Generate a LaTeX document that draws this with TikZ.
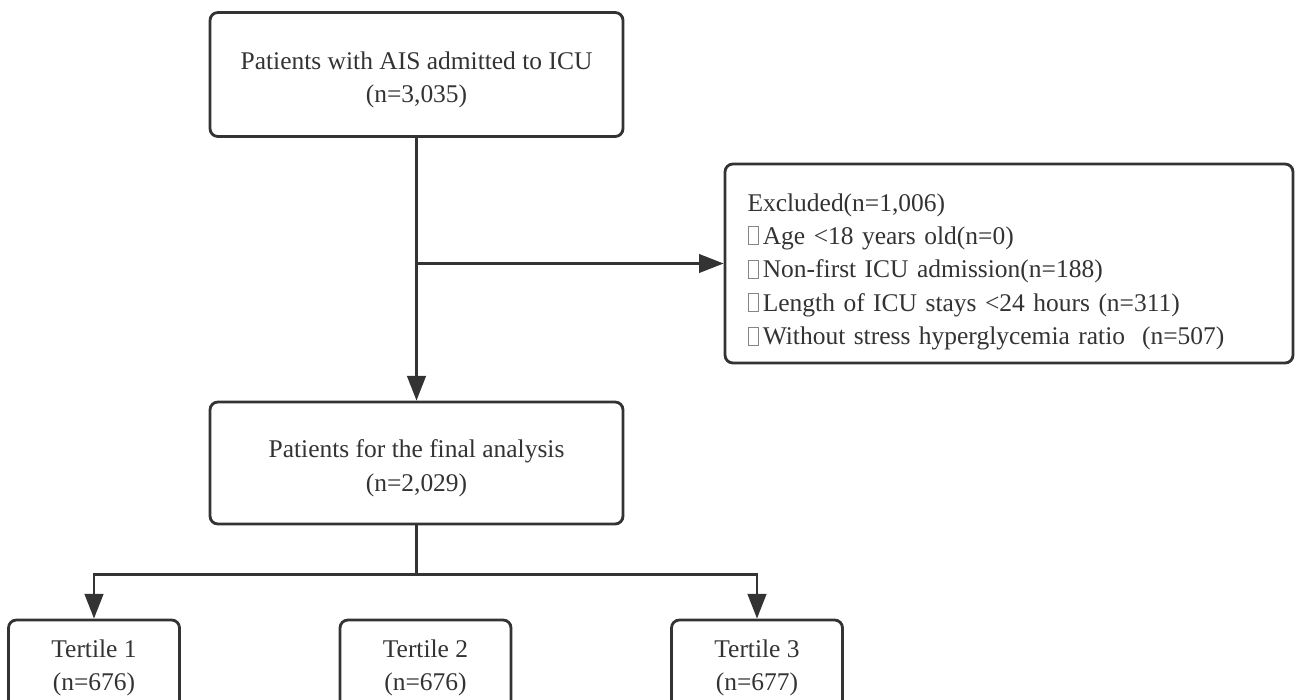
\documentclass[tikz,border=0pt]{standalone}
\usepackage{fontspec}
\setmainfont{Liberation Serif}
\usetikzlibrary{arrows.meta}
\definecolor{ink}{HTML}{333333}
\newcommand{\nobox}{{\color{ink!60}\setlength{\fboxrule}{0.4pt}\setlength{\fboxsep}{0pt}\fbox{\rule{0pt}{0.68em}\hspace{0.38em}}}\,}
\newcommand{\lift}[1]{\rule{0pt}{#1}}
\begin{document}
\begin{tikzpicture}[box/.style={draw=ink,line width=1.6pt,rounded corners=4.5pt,align=center,text=ink,font=\fontsize{14.5}{19}\selectfont},
  arr/.style={draw=ink,line width=1.6pt,-{Triangle[length=14pt,width=10.5pt]}}]
\useasboundingbox (0,0) rectangle (25.92,-14);
\node[box,minimum width=8.26cm,minimum height=2.48cm] (adm) at (8.33,-1.49) {\lift{16pt}Patients with AIS admitted to ICU\\(n=3,035)};
\node[box,align=left,text width=10.46cm,inner xsep=0.45cm,minimum height=3.98cm] (excl) at (20.18,-5.27)
  {\lift{19.5pt}Excluded(n=1,006)\\\nobox Age <18 years old(n=0)\\\nobox Non-first ICU admission(n=188)\\\nobox Length of ICU stays <24 hours (n=311)\\\nobox Without stress hyperglycemia ratio~ (n=507)};
\node[box,minimum width=8.26cm,minimum height=2.44cm] (fin) at (8.33,-9.26) {\lift{16pt}Patients for the final analysis\\(n=2,029)};
\foreach \i/\x/\n in {1/1.88/676,2/8.51/676,3/15.14/677}
  \node[box,minimum width=3.42cm,minimum height=1.92cm] (ter\i) at (\x,-13.36) {Tertile \i\\(n=\n)};
\draw[arr] (adm.south) -- (fin.north);
\draw[arr] (adm.south |- excl.west) -- (excl.west);
\draw[draw=ink,line width=1.6pt] (fin.south) -- ++(0,-0.98) coordinate (split);
\draw[arr] (split) -| (ter1.north);
\draw[arr] (split) -| (ter3.north);
\end{tikzpicture}
\end{document}
